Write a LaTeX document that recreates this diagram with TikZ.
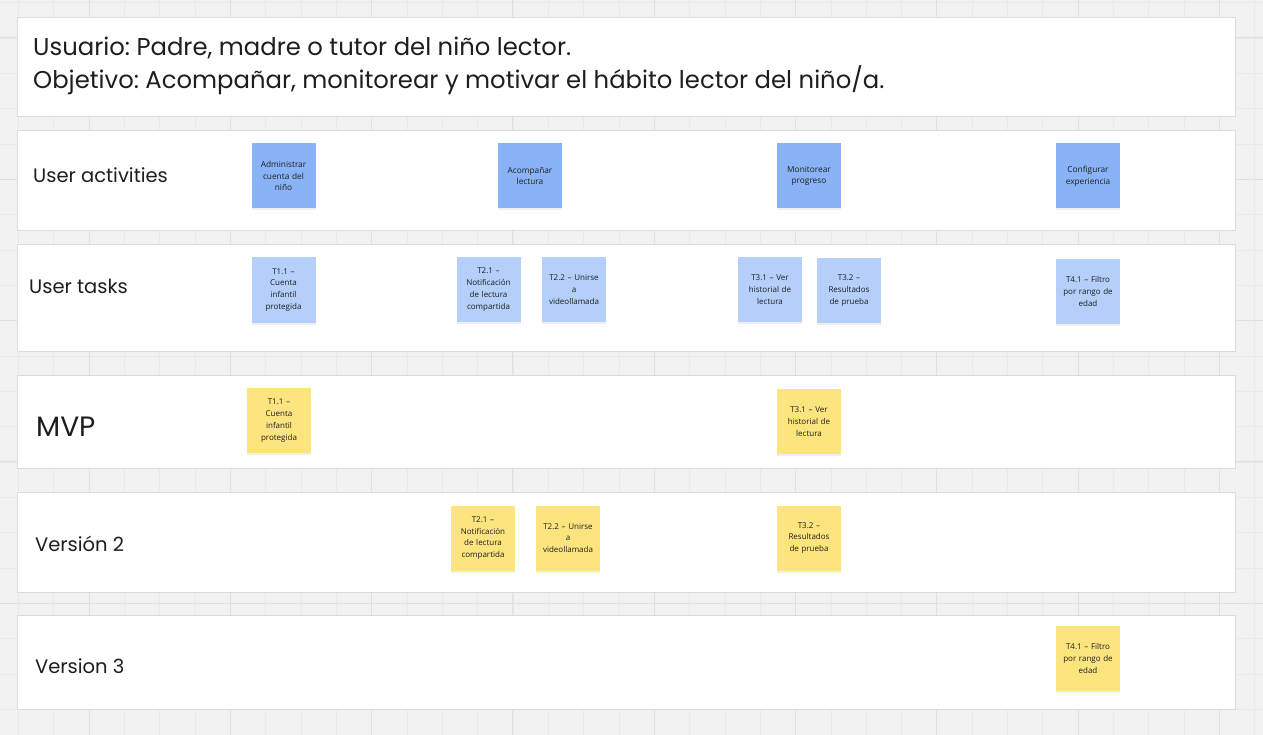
\documentclass[tikz,border=0pt]{standalone}
\usepackage{fontspec}
\setmainfont{Open Sans}
\newfontfamily\boardfont[Ligatures=NoCommon]{Poppins}
\usetikzlibrary{shadows}
\definecolor{boardbg}{HTML}{F2F2F2}
\definecolor{gridminor}{HTML}{E9E9E9}
\definecolor{gridmajor}{HTML}{E0E0E0}
\definecolor{bandline}{HTML}{DCDCDC}
\definecolor{actblue}{HTML}{89B3F6}
\definecolor{taskblue}{HTML}{B3CFFA}
\definecolor{relyellow}{HTML}{FCE57F}
\definecolor{ink}{HTML}{1E1E1E}
\frenchspacing
\begin{document}
\begin{tikzpicture}[x=1pt,y=-1pt,
    band/.style={draw=bandline,fill=white,line width=0.9pt},
    rowlabel/.style={anchor=west,inner sep=0pt,text=ink,font=\boardfont\fontsize{19.5}{22}\selectfont},
    sticky/.style={minimum width=64pt,minimum height=65pt,inner sep=1pt,text width=62pt,align=center,
      text=ink,font=\fontsize{8}{11.8}\selectfont,
      drop shadow={opacity=0.12,shadow xshift=0pt,shadow yshift=-2pt}},
    actnote/.style={sticky,fill=actblue,font=\fontsize{8.3}{11.8}\selectfont},
    tasknote/.style={sticky,fill=taskblue},
    relnote/.style={sticky,fill=relyellow}]
    \useasboundingbox (0,0) rectangle (1263,735);
    \fill[boardbg] (0,0) rectangle (1263,735);
    % board grid
    \foreach \x in {0,...,35}
    \draw[gridminor,line width=0.8pt] (18.3+35.33*\x,0) -- (18.3+35.33*\x,735);
    \foreach \y in {0,...,20}
    \draw[gridminor,line width=0.8pt] (0,2.7+35.33*\y) -- (1263,2.7+35.33*\y);
    \foreach \x in {0,...,8}
    \draw[gridmajor,line width=1pt] (89+141.3*\x,0) -- (89+141.3*\x,735);
    \foreach \y in {0,...,5}
    \draw[gridmajor,line width=1pt] (0,38+141.3*\y) -- (1263,38+141.3*\y);

    % header and rows
    \draw[band] (17,17) rectangle (1235,116);
    \node[anchor=west,inner sep=0pt,align=left,text=ink,font=\boardfont\fontsize{24.3}{33}\selectfont]
      (goal) at (33,66) {Usuario: Padre, madre o tutor del niño lector.\\
      Objetivo: Acompañar, monitorear y motivar el hábito lector del niño/a.};
    \draw[band] (17,130) rectangle (1235,230);
    \draw[band] (17,244) rectangle (1235,351);
    \draw[band] (17,375) rectangle (1235,468);
    \draw[band] (17,492) rectangle (1235,592);
    \draw[band] (17,615) rectangle (1235,709);
    \node[rowlabel] (activities) at (33,175) {User activities};
    \node[rowlabel] (tasks) at (29,286) {User tasks};
    \node[rowlabel,font=\boardfont\fontsize{28}{30}\selectfont] (mvp) at (36,427) {MVP};
    \node[rowlabel] (v2) at (35,544) {Versión 2};
    \node[rowlabel] (v3) at (35,666) {Version 3};

    % activities
    \node[actnote] (admin) at (283.5,176) {Administrar\\cuenta del\\niño};
    \node[actnote] (acomp) at (530,176) {Acompañar\\lectura};
    \node[actnote] (monit) at (809,176) {Monitorear\\progreso};
    \node[actnote] (config) at (1088,176) {Configurar\\experiencia};

    % tasks
    \node[tasknote] (taskA) at (283.5,290) {T1.1 –\\Cuenta\\infantil\\protegida};
    \node[tasknote] (taskB) at (488.5,289.5) {T2.1 –\\Notificación\\de lectura\\compartida};
    \node[tasknote] (taskC) at (574,289.5) {T2.2 – Unirse\\a\\videollamada};
    \node[tasknote] (taskD) at (770,289.5) {T3.1 – Ver\\historial de\\lectura};
    \node[tasknote] (taskE) at (849,290.5) {T3.2 –\\Resultados\\de prueba};
    \node[tasknote] (taskF) at (1088,291.5) {T4.1 – Filtro\\por rango de\\edad};

    % releases
    \node[relnote] (mvpA) at (279,420.5) {T1.1 –\\Cuenta\\infantil\\protegida};
    \node[relnote] (mvpD) at (809,421.5) {T3.1 – Ver\\historial de\\lectura};
    \node[relnote] (vtwoB) at (483,538) {T2.1 –\\Notificación\\de lectura\\compartida};
    \node[relnote] (vtwoC) at (568,538) {T2.2 – Unirse\\a\\videollamada};
    \node[relnote] (vtwoE) at (809,538) {T3.2 –\\Resultados\\de prueba};
    \node[relnote] (vthreeF) at (1088,658.5) {T4.1 – Filtro\\por rango de\\edad};
  \end{tikzpicture}
\end{document}
